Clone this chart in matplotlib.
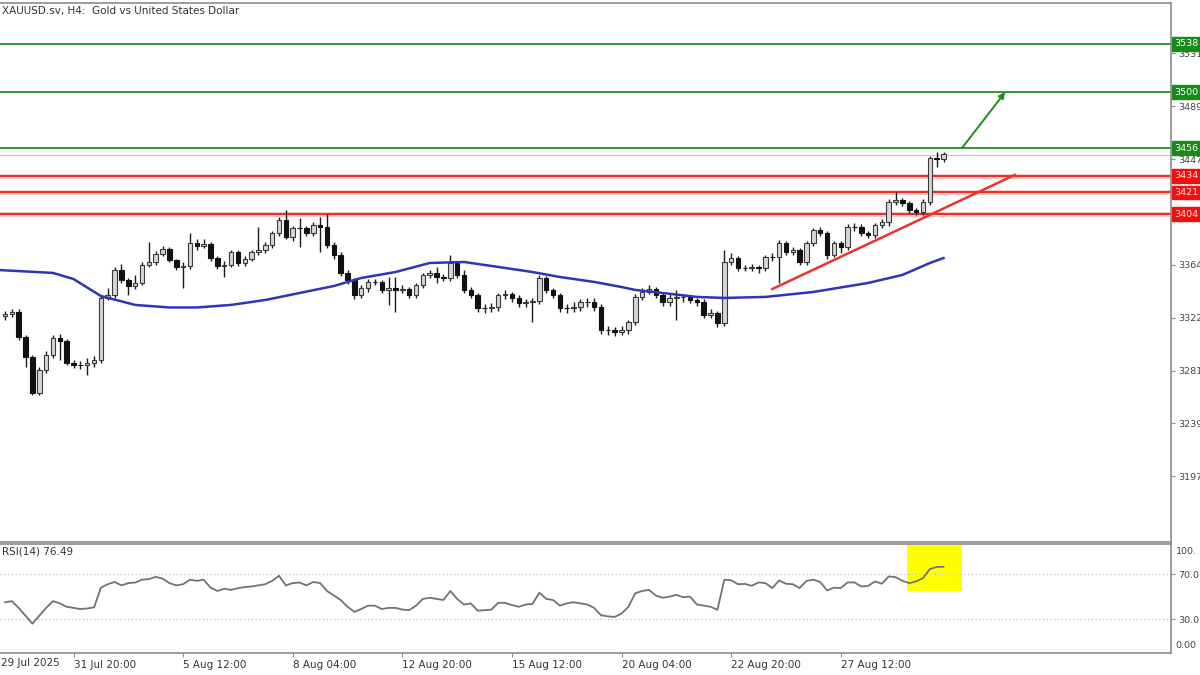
import numpy as np
import matplotlib
matplotlib.use('Agg')
import matplotlib.pyplot as plt
import matplotlib.transforms as mtransforms
from matplotlib.patches import Rectangle

# XAUUSD H4 candles (bar 0 = first visible bar)
first_open = 3323.8
closes = [3325.4, 3327.0, 3307.3, 3291.5, 3263.2, 3281.3, 3293.1, 3306.5, 3304.1, 3286.8,
          3285.2, 3285.0, 3286.8, 3289.2, 3338.0, 3340.3, 3360.0, 3352.1, 3347.4, 3349.8,
          3364.0, 3366.3, 3372.6, 3376.5, 3367.9, 3362.4, 3363.2, 3381.3, 3378.9, 3380.5,
          3369.4, 3363.2, 3364.0, 3374.2, 3365.5, 3368.7, 3374.2, 3375.8, 3379.7, 3389.1,
          3399.4, 3386.0, 3393.1, 3393.0, 3389.1, 3395.4, 3393.8, 3379.7, 3371.8, 3357.7,
          3352.1, 3340.3, 3345.8, 3350.6, 3350.4, 3344.3, 3345.8, 3344.3, 3345.1, 3340.3,
          3348.2, 3356.1, 3357.7, 3354.5, 3353.7, 3365.5, 3356.1, 3344.3, 3340.3, 3330.1,
          3330.0, 3330.9, 3340.3, 3341.1, 3338.0, 3334.0, 3334.8, 3335.6, 3353.7, 3344.3,
          3340.3, 3330.1, 3330.0, 3330.9, 3334.8, 3334.6, 3330.9, 3312.8, 3312.6, 3311.2,
          3312.8, 3319.1, 3338.8, 3342.7, 3345.1, 3340.3, 3334.8, 3338.0, 3338.8, 3338.6,
          3336.4, 3334.8, 3324.6, 3326.2, 3318.3, 3366.3, 3369.4, 3361.6, 3361.4, 3362.4,
          3361.6, 3370.2, 3370.0, 3381.3, 3374.2, 3375.8, 3366.3, 3381.3, 3391.5, 3389.1,
          3371.8, 3381.3, 3378.1, 3393.8, 3393.6, 3389.1, 3387.5, 3395.4, 3397.8, 3413.5,
          3415.1, 3412.7, 3407.2, 3405.7, 3413.5, 3448.2, 3447.4, 3451.3]
highs = [3328, 3329, 3329, 3309, 3293, 3284, 3296, 3309, 3309.5, 3306,
         3289, 3288, 3291, 3292, 3340, 3346, 3362, 3364.5, 3354, 3356,
         3366, 3382.1, 3375, 3379, 3378, 3369, 3366, 3389.1, 3384, 3384,
         3382, 3371, 3367, 3376, 3376, 3371, 3376, 3393.8, 3382, 3391,
         3402, 3407.2, 3395, 3400.9, 3395, 3398, 3401.7, 3404, 3382, 3374,
         3360, 3354, 3348, 3353, 3353, 3352, 3354.5, 3354.5, 3348, 3347,
         3350, 3358, 3360, 3362.4, 3357, 3371.8, 3367, 3360, 3347, 3342,
         3333, 3334, 3342, 3344, 3343, 3340, 3337, 3338, 3356, 3355,
         3346, 3342, 3333, 3335, 3337, 3338, 3338, 3333, 3316, 3315,
         3316, 3321, 3341, 3346, 3348, 3347, 3342, 3341, 3344.3, 3341,
         3340, 3338, 3337, 3329, 3328, 3375.8, 3373, 3371, 3364, 3365,
         3364, 3372, 3373, 3383.6, 3383, 3378, 3377, 3383, 3393, 3394,
         3391, 3383, 3383, 3396, 3397, 3396, 3391, 3397, 3400, 3416,
         3421.4, 3417, 3414, 3409, 3416, 3450, 3452.9, 3453]
lows = [3321, 3323, 3305, 3283.7, 3261.5, 3262, 3279, 3291, 3289, 3285,
        3283, 3282, 3277.4, 3284, 3287, 3336, 3338, 3350, 3340.3, 3345,
        3348, 3362, 3364, 3371, 3366, 3360, 3345.8, 3361, 3376, 3377,
        3367, 3361, 3354.5, 3362, 3363, 3363, 3367, 3372, 3373, 3377,
        3387, 3384, 3383, 3378.1, 3387, 3387, 3374.2, 3377, 3369, 3355,
        3349, 3337, 3338, 3343, 3348, 3342, 3332.5, 3327, 3342, 3338,
        3338, 3346, 3354, 3349.8, 3351, 3351, 3354, 3342, 3338, 3327,
        3326, 3327, 3328, 3337, 3335, 3331, 3331, 3319.1, 3333, 3342,
        3338, 3327, 3326, 3327, 3328, 3331, 3328, 3310, 3309, 3308,
        3309, 3310, 3317, 3336, 3341, 3338, 3332, 3332, 3320.7, 3335,
        3334, 3332, 3322, 3322, 3315.5, 3316, 3364, 3359, 3359, 3359,
        3358, 3359, 3367, 3349.8, 3372, 3372, 3364, 3364, 3379, 3387,
        3369, 3370, 3373.4, 3376, 3391, 3387, 3385, 3385, 3393, 3395,
        3411, 3410, 3405, 3403, 3403, 3411, 3441.1, 3445]

# blue moving average, read at a number of bars
ma_idx = [-1, 7, 10, 14, 19, 24, 28, 33, 38, 43, 48, 52, 57, 62, 67, 72, 77, 81, 86,
          90, 92, 96, 101, 105, 111, 118, 126, 131, 135, 137]
ma_val = [3360.0, 3357.7, 3352.9, 3339.5, 3332.5, 3330.5, 3330.5, 3332.5, 3336.4, 3341.9,
          3347.4, 3353.7, 3358.4, 3365.5, 3366.3, 3362.4, 3358.4, 3354.5, 3350.6, 3346.6,
          3344.3, 3341.9, 3338.8, 3338.0, 3338.8, 3342.7, 3349.8, 3356.1, 3365.5, 3369.4]

# RSI(14), one value per bar
rsi = [45, 46, 40, 33, 26, 33, 40, 46, 44, 41,
       40, 39, 39.5, 40.5, 58, 61, 63, 60, 62, 62.5,
       65, 65.5, 67.5, 66, 62, 60, 61, 65, 64, 65,
       58, 55, 57, 56, 57.5, 58.5, 59, 60, 61, 64,
       68.5, 60, 62, 62.5, 60, 63, 62, 55, 51, 47,
       41, 36.5, 39, 42, 42, 39, 40, 40, 38.5, 38,
       42, 48, 49, 48, 47, 55, 48, 43, 44, 37.5,
       38, 38.5, 44.5, 44.5, 42.5, 41, 43, 43.5, 53.5, 48,
       47, 42, 44, 45, 44, 43, 40, 33.5, 32.5, 32,
       35, 41, 53, 55, 56, 51, 49, 50, 51.5, 49.5,
       50, 43, 42, 41, 38.3, 65, 64.5, 61, 61.3, 59.6,
       62.6, 62, 57.6, 64.4, 61.4, 61, 57.6, 64, 65, 63,
       55.5, 58, 57.6, 62.6, 62.6, 59, 59.5, 63.5, 61.4, 67.9,
       67.3, 64, 62, 63.5, 66.4, 74.4, 76.3, 76.49]

green_levels = [3538, 3500, 3456]
green_labels = ['3538', '3500', '3456']
red_levels = [3434, 3421, 3404]
red_labels = ['3434', '3421', '3404']
bid = 3450.5

trend_start = (112, 3345.0)
trend_end = (147.4, 3434.8)
arrow_start = (139.7, 3456.0)
arrow_end = (146.0, 3500.0)

price_ticks = [3197.6, 3239.2, 3280.8, 3322.4, 3364.0, 3405.6, 3447.2, 3488.8, 3530.4]
# 3406 sits under the 3404 box, so it gets no label
price_tick_labels = ['3197', '3239', '3281', '3322', '3364', '', '3447', '3489', '3531']

time_ticks = [10, 26, 42, 58, 74, 90, 106, 122]
time_labels = ['31 Jul 20:00', '5 Aug 12:00', '8 Aug 04:00', '12 Aug 20:00',
               '15 Aug 12:00', '20 Aug 04:00', '22 Aug 20:00', '27 Aug 12:00']
first_time_label = '29 Jul 2025'

# yellow box over the latest RSI readings (bars, rsi units)
hl_x0, hl_x1 = 131.7, 139.7
hl_y0, hl_y1 = 55.0, 96.0

frame = '#8c8c8c'
txt = '#444444'
fs = 6.8    # right-hand scale
fs2 = 7.5   # time labels and titles

fig = plt.figure(figsize=(12, 6.75), dpi=100)
ax = fig.add_axes([0, 0.197, 0.9758, 0.7985])
rx = fig.add_axes([0, 0.0326, 0.9758, 0.1615], sharex=ax)

x = np.arange(len(closes))
c = np.array(closes)
o = np.array([first_open] + closes[:-1])
up = c >= o
bottoms = np.minimum(o, c)
heights = np.maximum(np.abs(c - o), 0.4)

# levels
for lv in green_levels:
    ax.axhline(lv, color='#2e9b2e', lw=1.4, zorder=2)
for lv in red_levels:
    ax.axhline(lv, color='#f4a0a0', lw=3.5, alpha=0.6, zorder=2)
    ax.axhline(lv, color='#e5302c', lw=1.4, zorder=2)
ax.axhline(bid, color='#c8c8c8', lw=0.8, zorder=2)

# candles
ax.vlines(x, lows, highs, color='#1a1a1a', lw=1, zorder=3)
ax.bar(x[up], heights[up], bottom=bottoms[up], width=0.66, color='#d6d6d6',
       edgecolor='#3a3a3a', linewidth=0.8, zorder=4)
ax.bar(x[~up], heights[~up], bottom=bottoms[~up], width=0.66, color='#111111',
       edgecolor='#111111', linewidth=0.8, zorder=4)

ax.plot(ma_idx, ma_val, color='#2f34b8', lw=1.8, zorder=5, solid_joinstyle='round')
ax.plot([trend_start[0], trend_end[0]], [trend_start[1], trend_end[1]],
        color='#e8352c', lw=1.8, zorder=5)
ax.annotate('', xy=arrow_end, xytext=arrow_start,
            arrowprops=dict(arrowstyle='-|>', color='#1e8c1e', lw=1.4,
                            mutation_scale=9, shrinkA=0, shrinkB=0), zorder=6)

ax.set_xlim(-0.73, 170.2)
ax.set_ylim(3145.9, 3570.1)

ax.yaxis.tick_right()
ax.set_yticks(price_ticks)
ax.set_yticklabels(price_tick_labels)
ax.tick_params(axis='y', direction='out', length=3, pad=2, labelsize=fs,
               colors=frame, labelcolor=txt)
ax.tick_params(axis='x', bottom=False, labelbottom=False)
for s in ['top', 'right', 'bottom']:
    ax.spines[s].set_color(frame)
    ax.spines[s].set_linewidth(1.2)
ax.spines['left'].set_visible(False)

# price boxes on the right axis
trans = mtransforms.blended_transform_factory(ax.transAxes, ax.transData)
for lv, lab in zip(green_levels, green_labels):
    ax.text(1.0027, lv, lab, transform=trans, ha='left', va='center', fontsize=fs,
            color='white', clip_on=False, zorder=10,
            bbox=dict(boxstyle='square,pad=0.25', fc='#178a17', ec='#178a17'))
for lv, lab in zip(red_levels, red_labels):
    ax.text(1.0027, lv, lab, transform=trans, ha='left', va='center', fontsize=fs,
            color='#ffe0e0', clip_on=False, zorder=10,
            bbox=dict(boxstyle='square,pad=0.25', fc='#f01010', ec='#f01010'))

ax.annotate('XAUUSD.sv, H4:  Gold vs United States Dollar', xy=(0, 1), xycoords='axes fraction',
            xytext=(2, -8), textcoords='offset pixels', ha='left', va='center',
            fontsize=fs2, color='#333333')

# RSI panel
rx.add_patch(Rectangle((hl_x0, hl_y0), hl_x1 - hl_x0, hl_y1 - hl_y0,
                       facecolor='#ffff00', edgecolor='none', zorder=1))
for lv in [70, 30]:
    rx.axhline(lv, color='#c4c4c4', lw=0.9, ls=(0, (1, 2)), zorder=1)
rx.plot(x, rsi, color='#727272', lw=1.3, zorder=3)
rx.set_ylim(0, 96.7)
rx.yaxis.tick_right()
rx.set_yticks([30, 70])
rx.set_yticklabels(['30.0', '70.0'])
rx.tick_params(axis='y', direction='out', length=3, pad=2, labelsize=fs,
               colors=frame, labelcolor=txt)
rtrans = mtransforms.blended_transform_factory(rx.transAxes, rx.transData)
rx.text(1.004, 90.4, '100.', transform=rtrans, ha='left', va='center', fontsize=fs, color=txt)
rx.text(1.004, 6.9, '0.00', transform=rtrans, ha='left', va='center', fontsize=fs, color=txt)
rx.annotate('RSI(14) 76.49', xy=(0, 1), xycoords='axes fraction', xytext=(2, -8),
            textcoords='offset pixels', ha='left', va='center', fontsize=fs2, color='#333333')

rx.set_xticks(time_ticks)
rx.set_xticklabels(time_labels, ha='left')
rx.tick_params(axis='x', direction='out', length=3, pad=2, labelsize=fs2,
               colors=frame, labelcolor='#333333')
# first date label: its tick lies left of the visible window
rx.annotate(first_time_label, xy=(0, 0), xycoords='axes fraction',
            xytext=(1, -10), textcoords='offset pixels', ha='left', va='center',
            fontsize=fs2, color='#333333')
for s in ['top', 'right', 'bottom']:
    rx.spines[s].set_color(frame)
    rx.spines[s].set_linewidth(1.2)
rx.spines['left'].set_visible(False)

fig.savefig('out.png', dpi=100, facecolor='white')
